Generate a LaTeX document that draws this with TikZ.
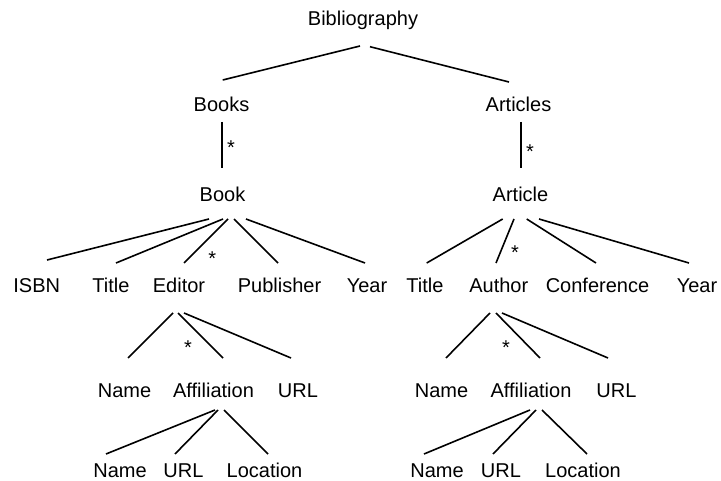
\documentclass[tikz,border=0pt]{standalone}
\usepackage{fontspec}
\setmainfont{Liberation Sans}
\begin{document}
\begin{tikzpicture}[x=1pt,y=-1pt,
  lab/.style={anchor=base,inner sep=0pt,font=\fontsize{20}{24}\selectfont},
  mult/.style={anchor=base,inner sep=0pt,font=\fontsize{20}{24}\selectfont},
  edge/.style={line width=1.6pt}]
\useasboundingbox (0,0) rectangle (721,481);

% root and collections
\node[lab] (bib) at (363,26) {Bibliography};
\node[lab] (books) at (221.5,112) {Books};
\node[lab] (articles) at (518.5,112) {Articles};
\node[lab] (book) at (222.5,202) {Book};
\node[lab] (article) at (520.5,202) {Article};

% fields of a book
\node[lab] (isbn) at (36.7,293) {ISBN};
\node[lab] (btitle) at (111,293) {Title};
\node[lab] (editor) at (179,293) {Editor};
\node[lab] (publisher) at (279.5,293) {Publisher};
\node[lab] (byear) at (367,293) {Year};

% fields of an article
\node[lab] (atitle) at (425,293) {Title};
\node[lab] (author) at (498.8,293) {Author};
\node[lab] (conference) at (597.5,293) {Conference};
\node[lab] (ayear) at (697,293) {Year};

% person details
\node[lab] (ename) at (124.5,398) {Name};
\node[lab] (eaffil) at (213.5,398) {Affiliation};
\node[lab] (eurl) at (298,398) {URL};
\node[lab] (aname) at (441.5,398) {Name};
\node[lab] (aaffil) at (531,398) {Affiliation};
\node[lab] (aurl) at (616.5,398) {URL};

% affiliation details
\node[lab] (efname) at (120,477) {Name};
\node[lab] (efurl) at (183.5,477) {URL};
\node[lab] (efloc) at (264.5,477) {Location};
\node[lab] (afname) at (437,477) {Name};
\node[lab] (afurl) at (501,477) {URL};
\node[lab] (afloc) at (583,477) {Location};

% multiplicity marks
\node[mult] (m1) at (231,154.4) {*};
\node[mult] (m2) at (530,158.4) {*};
\node[mult] (m3) at (212.3,265.7) {*};
\node[mult] (m4) at (515,259.4) {*};
\node[mult] (m5) at (188,354.4) {*};
\node[mult] (m6) at (506,354.4) {*};

% edges
\draw[edge] ([shift={(-3,20)}]bib.base) -- ([shift={(1.2,-32)}]books.base);
\draw[edge] ([shift={(7,20.7)}]bib.base) -- ([shift={(-9.5,-30)}]articles.base);
\draw[edge] ([shift={(0.5,10)}]books.base) -- ([shift={(-0.5,-34)}]book.base);
\draw[edge] ([shift={(2.2,10)}]articles.base) -- ([shift={(0.2,-34)}]article.base);

\draw[edge] ([shift={(-13.5,17)}]book.base) -- ([shift={(10.3,-33)}]isbn.base);
\draw[edge] ([shift={(0.5,17)}]book.base) -- ([shift={(5,-30)}]btitle.base);
\draw[edge] ([shift={(5.5,17)}]book.base) -- ([shift={(5,-30)}]editor.base);
\draw[edge] ([shift={(11.5,17)}]book.base) -- ([shift={(-1.5,-30)}]publisher.base);
\draw[edge] ([shift={(23.5,17)}]book.base) -- ([shift={(-2,-30)}]byear.base);

\draw[edge] ([shift={(-17.8,17)}]article.base) -- ([shift={(1.7,-30)}]atitle.base);
\draw[edge] ([shift={(-6.5,17)}]article.base) -- ([shift={(-2.8,-30)}]author.base);
\draw[edge] ([shift={(6.2,17)}]article.base) -- ([shift={(-1.5,-30)}]conference.base);
\draw[edge] ([shift={(18.5,17)}]article.base) -- ([shift={(-8,-30)}]ayear.base);

\draw[edge] ([shift={(-6,20)}]editor.base) -- ([shift={(3.5,-40)}]ename.base);
\draw[edge] ([shift={(-1,20)}]editor.base) -- ([shift={(9.5,-40)}]eaffil.base);
\draw[edge] ([shift={(5,20)}]editor.base) -- ([shift={(-7,-40)}]eurl.base);

\draw[edge] ([shift={(-8.8,20)}]author.base) -- ([shift={(4.5,-40)}]aname.base);
\draw[edge] ([shift={(-2.8,20)}]author.base) -- ([shift={(9,-40)}]aaffil.base);
\draw[edge] ([shift={(3.2,20)}]author.base) -- ([shift={(-8.5,-40)}]aurl.base);

\draw[edge] ([shift={(1.5,12)}]eaffil.base) -- ([shift={(-14,-23)}]efname.base);
\draw[edge] ([shift={(4.5,12)}]eaffil.base) -- ([shift={(-8.5,-23)}]efurl.base);
\draw[edge] ([shift={(10.5,12)}]eaffil.base) -- ([shift={(3.5,-23)}]efloc.base);

\draw[edge] ([shift={(-1,12)}]aaffil.base) -- ([shift={(-13,-23)}]afname.base);
\draw[edge] ([shift={(5,12)}]aaffil.base) -- ([shift={(-8,-23)}]afurl.base);
\draw[edge] ([shift={(11,12)}]aaffil.base) -- ([shift={(4,-23)}]afloc.base);
\end{tikzpicture}
\end{document}
